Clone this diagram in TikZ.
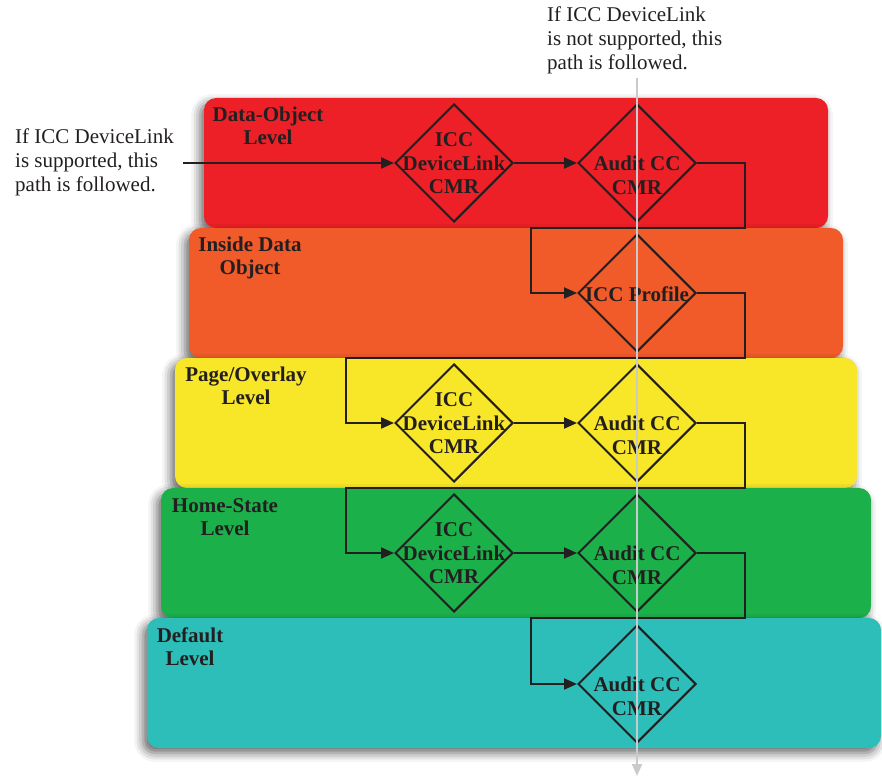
\documentclass[tikz,border=0pt]{standalone}
\usepackage{fontspec}
\setmainfont{Liberation Serif}
\usetikzlibrary{shapes.geometric,arrows.meta,shadows.blur}
\definecolor{bred}{RGB}{237,32,39}
\definecolor{borange}{RGB}{241,90,41}
\definecolor{byellow}{RGB}{248,230,40}
\definecolor{bgreen}{RGB}{28,176,75}
\definecolor{bteal}{RGB}{46,190,185}
\definecolor{ink}{RGB}{35,31,32}
\definecolor{guide}{RGB}{200,202,205}
\begin{document}
\begin{tikzpicture}[x=1pt,y=-1pt,
  band/.style={rounded corners=12pt, blur shadow={shadow xshift=-4pt, shadow yshift=-5pt, shadow blur radius=9pt, shadow opacity=60}},
  dia/.style={diamond, draw=ink, line width=2pt, minimum width=118pt, minimum height=118pt, inner sep=0pt},
  dtext/.style={font=\fontsize{21}{23.5}\selectfont\bfseries, text=ink, align=center, inner sep=0pt},
  lab/.style={font=\fontsize{21}{23}\selectfont\bfseries, text=ink, align=center, inner sep=0pt, anchor=north},
  note/.style={font=\fontsize{21}{24}\selectfont, text=ink, align=left, inner sep=0pt, anchor=north west},
  flow/.style={draw=ink, line width=2pt, line join=miter, -{Triangle[length=13pt,width=11pt]}},
  guideline/.style={draw=guide, line width=2pt, -{Triangle[length=12pt,width=10pt]}}
]
\useasboundingbox (0,0) rectangle (882,778);
% bands
\path[band, fill=bred] (204,98) rectangle (828,228);
\path[band, fill=borange] (189,228) rectangle (843,358);
\path[band, fill=byellow] (175,358) rectangle (857,488);
\path[band, fill=bgreen] (161,488) rectangle (871,618);
\path[band, fill=bteal] (147,618) rectangle (881,748);
% band labels
\node[lab] (L1) at (268,107) {Data-Object\\Level};
\node[lab] (L2) at (250,237) {Inside Data\\Object};
\node[lab] (L3) at (246,367) {Page/Overlay\\Level};
\node[lab] (L4) at (225,498) {Home-State\\Level};
\node[lab] (L5) at (190,628) {Default\\Level};
% diamonds
\node[dia] (d1) at (454,163) {};
\node[dia] (a1) at (637,163) {};
\node[dia] (p2) at (637,293) {};
\node[dia] (d3) at (454,423) {};
\node[dia] (a3) at (637,423) {};
\node[dia] (d4) at (454,553) {};
\node[dia] (a4) at (637,553) {};
\node[dia] (a5) at (637,684) {};
% diamond texts
\node[dtext] (d1t) at (454,163.5) {ICC\\DeviceLink\\CMR};
\node[dtext] (a1t) at (637,175.5) {Audit CC\\CMR};
\node[dtext, anchor=base] (p2t) at (637,301) {ICC Profile};
\node[dtext] (d3t) at (454,423.5) {ICC\\DeviceLink\\CMR};
\node[dtext] (a3t) at (637,435.5) {Audit CC\\CMR};
\node[dtext] (d4t) at (454,553.5) {ICC\\DeviceLink\\CMR};
\node[dtext] (a4t) at (637,565.5) {Audit CC\\CMR};
\node[dtext] (a5t) at (637,696.5) {Audit CC\\CMR};
% notes
\node[note] (topnote) at (547,7) {If ICC DeviceLink\\is not supported, this\\path is followed.};
\node[note] (leftnote) at (15,128.5) {If ICC DeviceLink\\is supported, this\\path is followed.};
% coordinates
\coordinate (in) at (183,163);
\coordinate (r1) at (745,228); \coordinate (l1) at (531,293);
\coordinate (r2) at (745,358); \coordinate (l2) at (346,423);
\coordinate (r3) at (745,488); \coordinate (l3) at (346,553);
\coordinate (r4) at (745,618); \coordinate (l4) at (531,684);
\coordinate (gtop) at (637,78); \coordinate (gbot) at (637,776);
% connectors
\draw[flow] (in) -- (d1.west);
\draw[flow] (d1.east) -- (a1.west);
\draw[flow] (a1.east) -| (r1) -| (l1) -- (p2.west);
\draw[flow] (p2.east) -| (r2) -| (l2) -- (d3.west);
\draw[flow] (d3.east) -- (a3.west);
\draw[flow] (a3.east) -| (r3) -| (l3) -- (d4.west);
\draw[flow] (d4.east) -- (a4.west);
\draw[flow] (a4.east) -| (r4) -| (l4) -- (a5.west);
\draw[guideline] (gtop) -- (gbot);
\end{tikzpicture}
\end{document}
